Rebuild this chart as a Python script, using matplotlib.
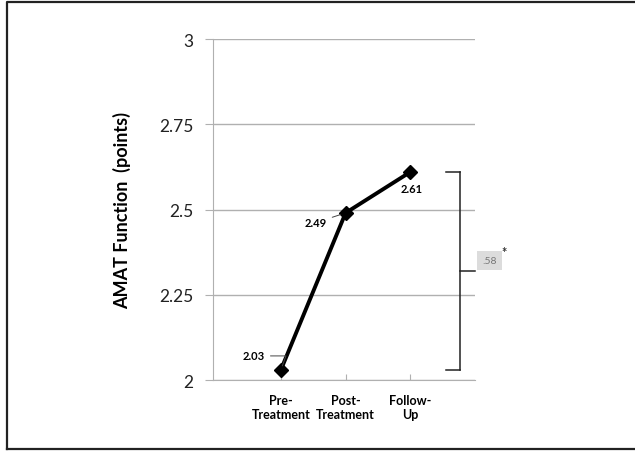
import numpy as np
import matplotlib.pyplot as plt
from matplotlib.lines import Line2D

plt.rcParams['font.family'] = ['Lato', 'DejaVu Sans']

# chart data
stages = ['Pre-\nTreatment', 'Post-\nTreatment', 'Follow-\nUp']
scores = [2.03, 2.49, 2.61]
y_ticks = [2, 2.25, 2.5, 2.75, 3]
y_tick_labels = ['2', '2.25', '2.5', '2.75', '3']
effect_label = '.58'

fig = plt.figure(figsize=(6.35, 4.52), dpi=100)
ax = fig.add_axes([0.3354, 0.157, 0.4126, 0.7545])

x = np.arange(len(stages))
ax.plot(x, scores, color='black', lw=2.8, marker='D', ms=7.5, zorder=3, clip_on=False)

ax.set_xlim(-1.05, 3.0)
ax.set_ylim(2, 3)
ax.set_yticks(y_ticks)
ax.set_yticklabels(y_tick_labels, fontsize=12.5, color='#222222')
ax.set_xticks(x)
ax.set_xticklabels(stages, fontsize=9, fontweight='bold', linespacing=1.25)
ax.tick_params(axis='x', direction='in', length=4, color='#b0b0b0', pad=10)
ax.tick_params(axis='y', length=6, color='#b0b0b0', pad=8)
ax.yaxis.grid(True, color='#b0b0b0', lw=1)
ax.set_axisbelow(True)
for s in ['top', 'right']:
    ax.spines[s].set_visible(False)
for s in ['left', 'bottom']:
    ax.spines[s].set_color('#b0b0b0')
ax.set_ylabel('AMAT Function  (points)', fontsize=13, fontweight='bold', labelpad=20)

# value labels with leader lines
ax.annotate(f'{scores[0]:.2f}', xy=(x[0], scores[0]), xytext=(-11.5, 10), textcoords='offset points',
            ha='right', va='center', fontsize=8, fontweight='bold',
            arrowprops=dict(arrowstyle='-', color='#444444', lw=0.7, shrinkA=2, shrinkB=3,
                            connectionstyle='angle,angleA=0,angleB=70,rad=0'))
ax.annotate(f'{scores[1]:.2f}', xy=(x[1], scores[1]), xytext=(-13.5, -7), textcoords='offset points',
            ha='right', va='center', fontsize=8, fontweight='bold',
            arrowprops=dict(arrowstyle='-', color='#444444', lw=0.7, shrinkA=2, shrinkB=4))
ax.annotate(f'{scores[2]:.2f}', xy=(x[2], scores[2]), xytext=(1, -12), textcoords='offset points',
            ha='center', va='center', fontsize=8, fontweight='bold')

# effect-size bracket from pre to follow-up
bx, bl, br = 2.77, 2.55, 3.0
mid = (scores[0] + scores[2]) / 2
for seg in [([bx, bx], [scores[0], scores[2]]),
            ([bl, bx], [scores[2], scores[2]]),
            ([bl, bx], [scores[0], scores[0]]),
            ([bx, br], [mid, mid])]:
    ax.add_line(Line2D(seg[0], seg[1], color='#222222', lw=1.1, clip_on=False))
ax.text(3.22, mid + 0.03, effect_label, fontsize=7.5, color='#777777', ha='center', va='center',
        bbox=dict(boxstyle='square,pad=0.5', fc='#dcdcdc', ec='none'), clip_on=False)
ax.text(3.45, mid + 0.055, '*', fontsize=9, color='#333333', ha='center', va='center',
        fontweight='bold', clip_on=False)

# outer frame (left, top, bottom)
fig.add_artist(Line2D([0.011, 0.011, 1.0], [0.004, 0.993, 0.993], transform=fig.transFigure,
                      color='#222222', lw=1.6))
fig.add_artist(Line2D([0.011, 1.0], [0.004, 0.004], transform=fig.transFigure,
                      color='#222222', lw=1.6))

fig.savefig('out.png', dpi=100)
